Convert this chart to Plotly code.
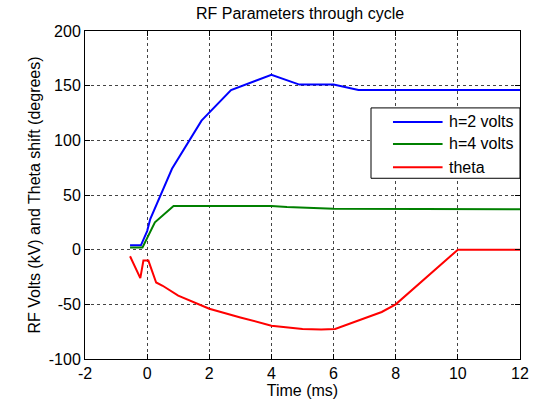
import plotly.graph_objects as go

# Time axis (ms) and the three RF programme curves
t_h2 = [-0.55, -0.2, 0.0, 0.1, 0.8, 1.75, 2.7, 4.0, 4.9, 6.0, 6.8, 12.0]
v_h2 = [4, 4, 17, 28, 74, 118, 146, 160, 151, 151, 146, 146]

t_h4 = [-0.55, -0.15, 0.25, 0.85, 4.0, 4.5, 6.0, 12.0]
v_h4 = [2, 2, 25, 40, 40, 39, 37.5, 37]

t_theta = [-0.55, -0.22, -0.12, 0.04, 0.29, 0.5, 1.0, 1.5, 2.0, 3.0, 4.0, 5.0,
           5.6, 6.05, 6.75, 7.55, 8.0, 10.0, 12.0]
v_theta = [-6, -26, -10, -10, -30, -33, -42, -48, -54, -62, -69.5, -72.5,
           -73, -72.5, -65, -57, -50, 0, 0]

series_names = ["h=2 volts", "h=4 volts", "theta"]
series_colors = ["#0000ff", "#008000", "#ff0000"]

x_ticks = [-2, 0, 2, 4, 6, 8, 10, 12]
y_ticks = [-100, -50, 0, 50, 100, 150, 200]

FONT = "Liberation Sans, Arial, sans-serif"
FS = 16

fig = go.Figure()
for (tx, vy), name, col in zip([(t_h2, v_h2), (t_h4, v_h4), (t_theta, v_theta)],
                               series_names, series_colors):
    fig.add_trace(go.Scatter(x=tx, y=vy, mode="lines", name=name,
                             line=dict(color=col, width=2), showlegend=False))

axis_common = dict(
    showline=True, linecolor="black", linewidth=1, mirror="allticks",
    ticks="inside", ticklen=5, tickcolor="black",
    showgrid=True, gridcolor="#444444", gridwidth=1, griddash="3px,3px",
    zeroline=False, automargin=False,
    tickfont=dict(family=FONT, size=FS, color="black"),
)

# plain hyphen-minus tick labels
fig.update_xaxes(range=[-2, 12], tickvals=x_ticks, ticktext=[str(v) for v in x_ticks],
                 **axis_common,
                 title=dict(text="Time (ms)", font=dict(family=FONT, size=FS, color="black"),
                            standoff=2))
fig.update_yaxes(range=[-100, 200], tickvals=y_ticks, ticktext=[str(v) for v in y_ticks],
                 **axis_common,
                 title=dict(text="RF Volts (kV) and Theta shift (degrees)",
                            font=dict(family=FONT, size=FS, color="black"), standoff=4))

# Legend box drawn in paper coordinates (upper right, inside the axes)
lx0, lx1 = 0.6575, 1.0
ly_top, ly_bot = 0.7655, 0.551
fig.add_shape(type="rect", xref="paper", yref="paper", x0=lx0, x1=lx1, y0=ly_bot, y1=ly_top,
              line=dict(color="black", width=1), fillcolor="white", layer="above")
row_y = [0.7228, 0.6558, 0.5848]
for name, col, ry in zip(series_names, series_colors, row_y):
    fig.add_shape(type="line", xref="paper", yref="paper", x0=0.708, x1=0.822, y0=ry, y1=ry,
                  line=dict(color=col, width=2), layer="above")
    fig.add_annotation(xref="paper", yref="paper", x=0.832, y=ry, text=name,
                       showarrow=False, xanchor="left", yanchor="middle",
                       font=dict(family=FONT, size=FS, color="black"))

fig.update_layout(
    width=539, height=405,
    margin=dict(l=85, r=19, t=31, b=46),
    paper_bgcolor="white", plot_bgcolor="white",
    title=dict(text="RF Parameters through cycle", x=0.5567, xanchor="center",
               y=0.968, yanchor="middle", font=dict(family=FONT, size=FS, color="black")),
    showlegend=False,
)

fig.write_html("out.html")
